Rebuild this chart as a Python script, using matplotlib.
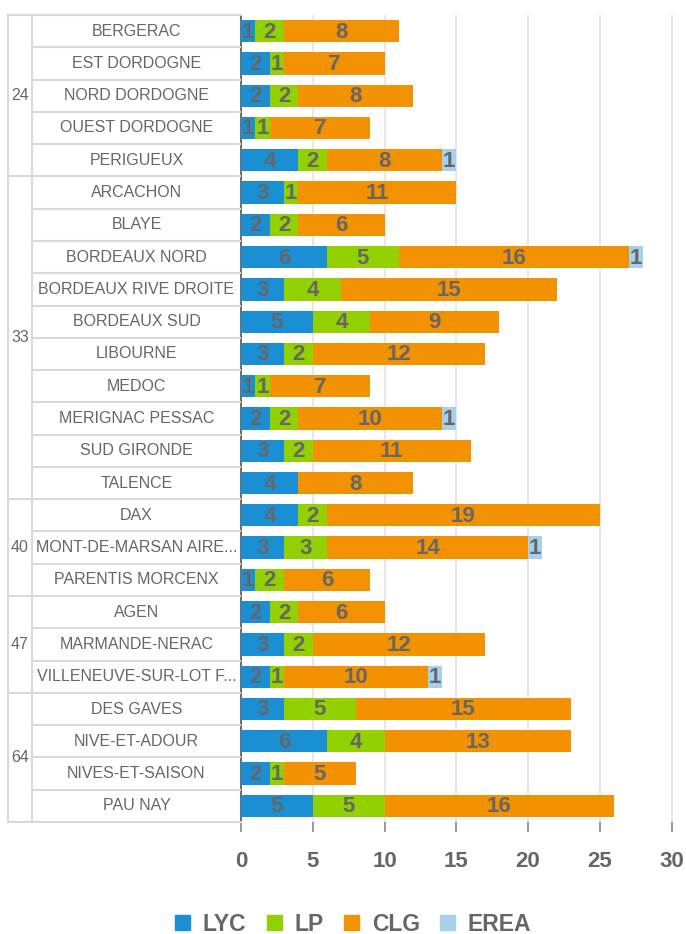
import numpy as np
import matplotlib.pyplot as plt
from matplotlib.patches import Patch

#===============================
# data
#===============================
names = ["BERGERAC", "EST DORDOGNE", "NORD DORDOGNE", "OUEST DORDOGNE", "PERIGUEUX",
         "ARCACHON", "BLAYE", "BORDEAUX NORD", "BORDEAUX RIVE DROITE", "BORDEAUX SUD",
         "LIBOURNE", "MEDOC", "MERIGNAC PESSAC", "SUD GIRONDE", "TALENCE",
         "DAX", "MONT-DE-MARSAN AIRE...", "PARENTIS MORCENX",
         "AGEN", "MARMANDE-NERAC", "VILLENEUVE-SUR-LOT F...",
         "DES GAVES", "NIVE-ET-ADOUR", "NIVES-ET-SAISON", "PAU NAY"]
depts = ["24", "33", "40", "47", "64"]
dept_sizes = [5, 10, 3, 3, 4]

lyc = [1, 2, 2, 1, 4, 3, 2, 6, 3, 5, 3, 1, 2, 3, 4, 4, 3, 1, 2, 3, 2, 3, 6, 2, 5]
lp = [2, 1, 2, 1, 2, 1, 2, 5, 4, 4, 2, 1, 2, 2, 0, 2, 3, 2, 2, 2, 1, 5, 4, 1, 5]
clg = [8, 7, 8, 7, 8, 11, 6, 16, 15, 9, 12, 7, 10, 11, 8, 19, 14, 6, 6, 12, 10, 15, 13, 5, 16]
erea = [0, 0, 0, 0, 1, 0, 0, 1, 0, 0, 0, 0, 1, 0, 0, 0, 1, 0, 0, 0, 1, 0, 0, 0, 0]

series = ["LYC", "LP", "CLG", "EREA"]
colors = ["#1a8fd3", "#92d000", "#f39200", "#a6d0ec"]
ticks = [0, 5, 10, 15, 20, 25, 30]

gray = "#666666"
line_c = "#d9d9d9"
W, H = 686, 934
top, bottom = 15, 822
n = len(names)

fig = plt.figure(figsize=(W / 100, H / 100), dpi=100)
ax = fig.add_axes([241 / W, (H - bottom) / H, (673 - 241) / W, (bottom - top) / H])
tab = fig.add_axes([8 / W, (H - bottom) / H, (241 - 8) / W, (bottom - top) / H])

y = np.arange(n)
left = np.zeros(n)
for vals, c in zip([lyc, lp, clg, erea], colors):
    vals = np.array(vals)
    ax.barh(y, vals, left=left, height=0.69, color=c, zorder=3)
    for i in range(n):
        if vals[i] > 0:
            ax.text(left[i] + vals[i] / 2, y[i] + 0.03, str(vals[i]), ha="center", va="center",
                    fontsize=16, fontweight="bold", color=gray, family="Liberation Sans",
                    zorder=4)
    left = left + vals

ax.set_ylim(n - 0.5, -0.5)
ax.set_xlim(0, 30.1)
ax.set_xticks(ticks)
ax.set_yticks([])
ax.grid(axis="x", color="#e3e3e3", linewidth=1.2, zorder=0)
for s in ["top", "right", "bottom"]:
    ax.spines[s].set_visible(False)
ax.spines["left"].set_color("#555555")
ax.spines["left"].set_linewidth(1.2)
ax.tick_params(axis="x", length=7, width=1.2, color="#888888", pad=14)
for lab in ax.get_xticklabels():
    lab.set_fontsize(16)
    lab.set_fontweight("bold")
    lab.set_color(gray)
    lab.set_family("Liberation Sans")

# table on the left
tab.set_xlim(0, 233)
tab.set_ylim(n - 0.5, -0.5)
tab.axis("off")
lw = 1.5
tab.plot([0, 233], [-0.5, -0.5], color=line_c, lw=lw, clip_on=False)
tab.plot([0, 233], [n - 0.5, n - 0.5], color=line_c, lw=lw, clip_on=False)
tab.plot([0, 0], [-0.5, n - 0.5], color=line_c, lw=lw, clip_on=False)
tab.plot([24, 24], [-0.5, n - 0.5], color=line_c, lw=lw, clip_on=False)
for i in range(1, n):
    tab.plot([24, 233], [i - 0.5, i - 0.5], color=line_c, lw=lw)
start = 0
for d, sz in zip(depts, dept_sizes):
    if start > 0:
        tab.plot([0, 24], [start - 0.5, start - 0.5], color=line_c, lw=lw)
    tab.text(12, start + (sz - 1) / 2, d, ha="center", va="center", fontsize=11.5,
             color=gray, family="Liberation Sans")
    start += sz
for i, nm in enumerate(names):
    tab.text(128.5, i, nm, ha="center", va="center", fontsize=11.5, color=gray,
             family="Liberation Sans")

handles = [Patch(color=c, label=s) for s, c in zip(series, colors)]
leg = fig.legend(handles=handles, loc="lower center", bbox_to_anchor=(0.515, -0.024), ncol=4,
                 frameon=False, handlelength=0.65, handleheight=0.65, columnspacing=0.9,
                 handletextpad=0.55, prop={"family": "Liberation Sans", "weight": "bold", "size": 16.5})
for t in leg.get_texts():
    t.set_color(gray)

fig.savefig("out.png", dpi=100)
